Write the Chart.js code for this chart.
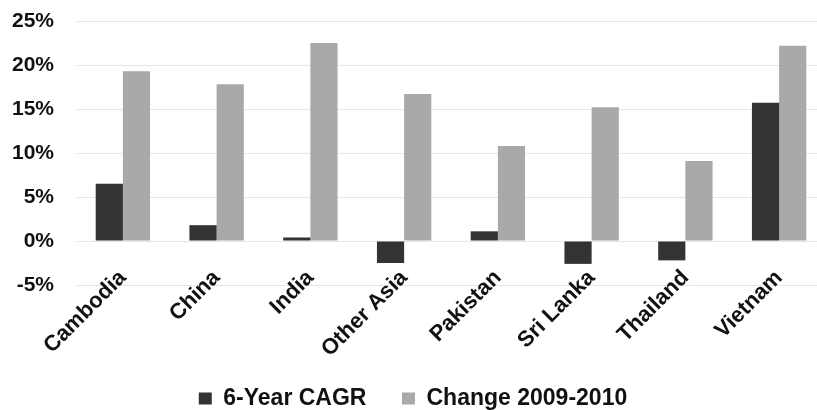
<!DOCTYPE html>
<html>
<head>
<meta charset="utf-8">
<script src="https://cdn.jsdelivr.net/npm/chart.js@4"></script>
<style>
  html, body { margin: 0; padding: 0; background: #fff; overflow: hidden; }
  canvas { display: block; }
</style>
</head>
<body>
<canvas id="chart" width="836" height="410"></canvas>
<script>
// categories and values (percent)
var countries = ['Cambodia', 'China', 'India', 'Other Asia', 'Pakistan', 'Sri Lanka', 'Thailand', 'Vietnam'];
var cagr6 = [6.5, 1.8, 0.4, -2.5, 1.1, -2.6, -2.2, 15.7];
var change0910 = [19.3, 17.8, 22.5, 16.7, 10.8, 15.2, 9.1, 22.2];
var yTicks = [-5, 0, 5, 10, 15, 20, 25];

var FONT = "'Liberation Sans', Arial, sans-serif";

// category labels start a little above the bottom of the plot, as in Excel
var liftLabels = {
  id: 'liftLabels',
  afterLayout: function(chart) {
    chart.scales.x.top -= 20;
  }
};

var config = {
  type: 'bar',
  data: {
    labels: countries,
    datasets: [{
      label: '6-Year CAGR',
      data: cagr6,
      backgroundColor: '#333333'
    }, {
      label: 'Change 2009-2010',
      data: change0910,
      backgroundColor: '#a9a9a9'
    }]
  },
  options: {
    responsive: false,
    animation: false,
    layout: {
      padding: { top: 21, right: 10, left: 0, bottom: -10 }
    },
    datasets: {
      bar: { barPercentage: 1.0, categoryPercentage: 0.58 }
    },
    scales: {
      x: {
        grid: { display: false, drawTicks: false },
        border: { display: false },
        ticks: {
          color: '#111',
          font: { family: FONT, size: 22, weight: 'bold' },
          minRotation: 45,
          maxRotation: 45,
          padding: 0
        },
        afterFit: function(scale) { scale.height = 92; }
      },
      y: {
        min: -5,
        max: 25,
        grid: { color: '#e6e6e6', drawTicks: false },
        border: { display: false },
        afterBuildTicks: function(scale) {
          scale.ticks = yTicks.map(function(v) { return { value: v }; });
        },
        ticks: {
          color: '#111',
          padding: 22,
          font: { family: FONT, size: 21, weight: 'bold' },
          callback: function(v) { return v + '%'; }
        },
        afterFit: function(scale) {
          scale.width = 76;
          scale.paddingTop = 0;
          scale.paddingBottom = 0;
        }
      }
    },
    plugins: {
      tooltip: { enabled: false },
      legend: {
        position: 'bottom',
        labels: {
          color: '#111',
          boxWidth: 13,
          boxHeight: 12,
          padding: 10,
          font: { family: FONT, size: 23, weight: 'bold' },
          generateLabels: function(chart) {
            var items = Chart.defaults.plugins.legend.labels.generateLabels(chart);
            // wider gap after the first entry
            items[0].text = items[0].text + '    ';
            return items;
          }
        }
      }
    }
  },
  plugins: [liftLabels]
};

window.onload = function() {
  var ctx = document.getElementById('chart').getContext('2d');
  window.myBar = new Chart(ctx, config);
};
</script>
</body>
</html>
